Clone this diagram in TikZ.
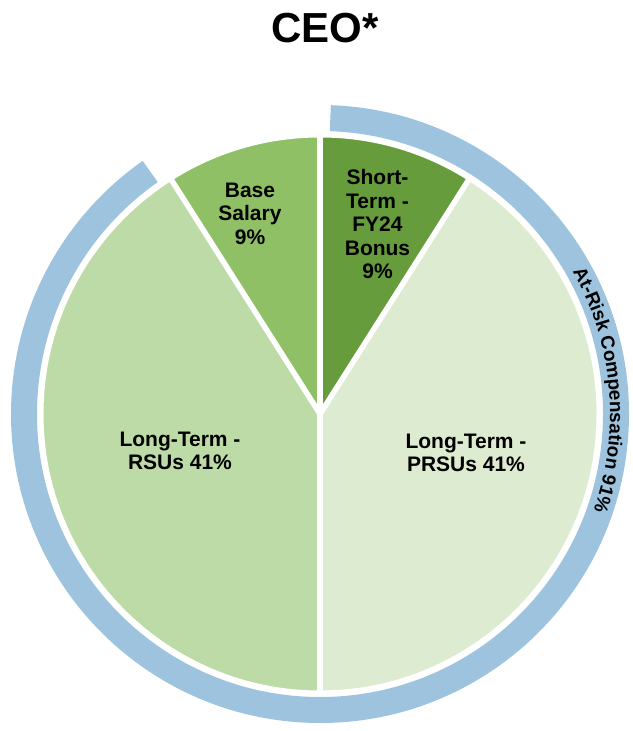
\documentclass[tikz,border=0pt]{standalone}
\usepackage{fontspec}
\setmainfont{Liberation Sans}
\definecolor{ringblue}{HTML}{9DC3DE}
\definecolor{gdark}{HTML}{669C3C}
\definecolor{gmid}{HTML}{8FC065}
\definecolor{glight}{HTML}{BDDBA6}
\definecolor{gpale}{HTML}{DDEBD0}
\newcommand\ringfont{\fontsize{19}{19}\selectfont\bfseries}
\tikzset{
  slice/.style={draw=white, line width=5.5pt, line join=miter},
  lbl/.style={font=\fontsize{21}{23.5}\selectfont\bfseries, align=center, text=black, inner sep=0pt},
  ringchar/.style={anchor=base, inner sep=0pt, font=\ringfont, text=black},
}
\begin{document}
\begin{tikzpicture}[x=1pt,y=1pt]
\useasboundingbox (0,0) rectangle (632,731);
\coordinate (C) at (320,317);
% slices
\fill[gpale] (C) -- ++(-90:278pt) arc[start angle=-90, end angle=57.6, radius=278pt] -- cycle;
\fill[glight] (C) -- ++(122.4:278pt) arc[start angle=122.4, end angle=270, radius=278pt] -- cycle;
\fill[gmid] (C) -- ++(90:278pt) arc[start angle=90, end angle=122.4, radius=278pt] -- cycle;
\fill[gdark] (C) -- ++(57.6:278pt) arc[start angle=57.6, end angle=90, radius=278pt] -- cycle;
\draw[slice] (C) -- ++(-90:280pt);
\draw[slice] (C) -- ++(90:280pt);
\draw[slice] (C) -- ++(57.6:280pt);
\draw[slice] (C) -- ++(122.4:280pt);
\draw[white, line width=3pt] (C) circle[radius=278pt];
% ring
\draw[ringblue, line width=26pt] (C) ++(88:296pt) arc[start angle=88, end angle=-235, radius=296pt];
% ring text, character by character (Arial Bold advance widths, em)
\xdef\curang{29.4}
\foreach \ch/\chwid [count=\i] in {A/.722,t/.333,-/.333,R/.722,i/.278,s/.556,k/.556,\space/.278,
  C/.722,o/.611,m/.889,p/.611,e/.556,n/.611,s/.556,a/.556,t/.333,i/.278,o/.611,n/.611,
  \space/.278,9/.556,1/.556,\%/.889} {
  \pgfmathsetmacro\halfang{(\chwid*19/290)*180/pi/2}
  \pgfmathsetmacro\midang{\curang-\halfang}
  \path (C) ++(\midang:290pt) node[ringchar, rotate=\midang-90] (rc\i) {\ch};
  \pgfmathsetmacro\nextang{\curang-2*\halfang}
  \xdef\curang{\nextang}
}
% labels
\node[font=\fontsize{42}{42}\selectfont\bfseries, inner sep=0pt] (title) at (325,703) {CEO*};
\node[lbl] (base) at (250,517.5) {Base\\Salary\\9\%};
\node[lbl] (short) at (377.5,507) {Short-\\Term -\\FY24\\Bonus\\9\%};
\node[lbl] (rsu) at (180,280) {Long-Term -\\RSUs 41\%};
\node[lbl] (prsu) at (466,278) {Long-Term -\\PRSUs 41\%};
\end{tikzpicture}
\end{document}
